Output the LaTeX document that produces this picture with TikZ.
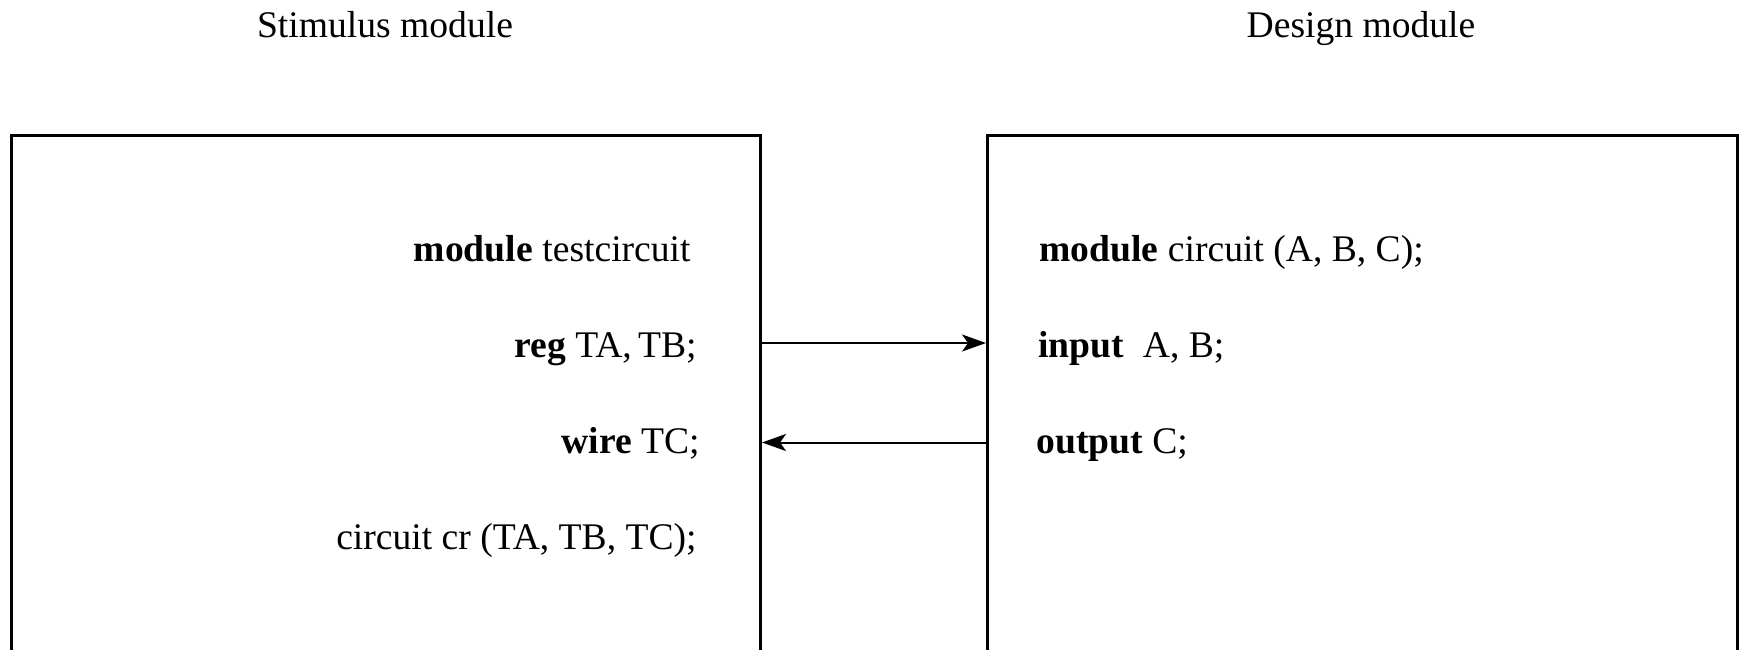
\documentclass[tikz,border=0pt]{standalone}
\usepackage{fontspec}
\setmainfont{Liberation Serif}
\usetikzlibrary{arrows.meta}
\tikzset{
  modbox/.style={draw, line width=1.5pt, rectangle, inner sep=0pt, anchor=north west},
  code/.style={inner sep=0pt, font=\fontsize{18.8}{22}\selectfont},
  title/.style={inner sep=0pt, anchor=base, font=\fontsize{18.8}{22}\selectfont},
  sig/.style={line width=1pt, -{Stealth[length=12pt, width=8.5pt, inset=3pt]}}
}
\begin{document}
\begin{tikzpicture}[x=0.5pt, y=-0.5pt]
  \useasboundingbox (0,0) rectangle (1739,649);
  \clip (0,0) rectangle (1739,649);

  % module titles
  \node[title] (stimtitle) at (385,37) {Stimulus module};
  \node[title] (designtitle) at (1361,37) {Design module};

  % module outlines (they run past the lower edge)
  \node[modbox, minimum width=374.5pt, minimum height=300pt] (stim) at (10,134) {};
  \node[modbox, minimum width=375pt, minimum height=300pt] (design) at (986,134) {};

  % stimulus module code
  \node[code, anchor=base east] (l1) at (691,261) {\textbf{module} testcircuit};
  \node[code, anchor=base east] (l2) at (697,357) {\textbf{reg} TA,\,TB;};
  \node[code, anchor=base east] (l3) at (700,453) {\textbf{wire} TC;};
  \node[code, anchor=base east] (l4) at (697,549) {circuit cr (TA, TB, TC);};

  % design module code
  \node[code, anchor=base west] (r1) at (1039,261) {\textbf{module} circuit (A, B, C);};
  \node[code, anchor=base west] (r2) at (1038,357) {\textbf{input}\ \ A, B;};
  \node[code, anchor=base west] (r3) at (1036,453) {\textbf{output} C;};

  % port connections
  \coordinate (p1) at (0,343);
  \coordinate (p2) at (0,442.5);
  \draw[sig] (stim.east |- p1) -- (design.west |- p1);
  \draw[sig] (design.west |- p2) -- (stim.east |- p2);
\end{tikzpicture}
\end{document}
